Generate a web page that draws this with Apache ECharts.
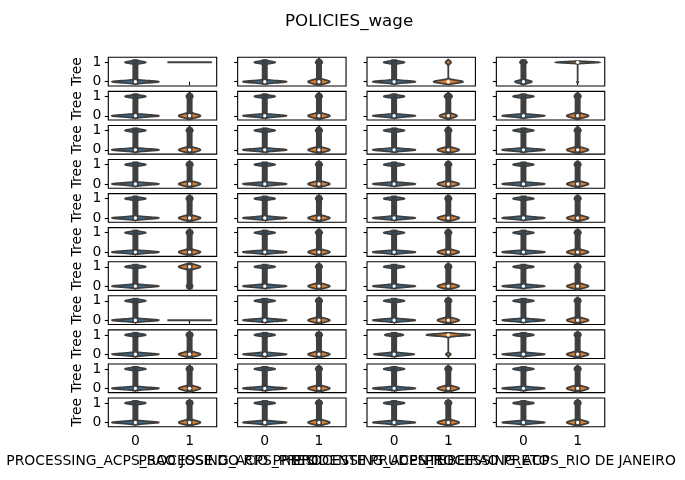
<!DOCTYPE html>
<html><head><meta charset="utf-8">
<script src="https://cdn.jsdelivr.net/npm/echarts@6/dist/echarts.min.js"></script>
<style>html,body{margin:0;padding:0;background:#fff}#c{width:685px;height:480px}</style>
</head><body><div id="c"></div>
<script>
const chartTitle = 'POLICIES_wage';
const columnLabels = ['PROCESSING_ACPS_SAO JOSE DO RIO PRETO', 'PROCESSING_ACPS_PRESIDENTE PRUDENTE', 'PROCESSING_ACPS_RIBEIRAO PRETO', 'PROCESSING_ACPS_RIO DE JANEIRO'];
const rowLabel = 'Tree';
const categories = ['0', '1'];
const yTickValues = [0, 1];
const nRows = 11, nCols = 4;

// Violin for category "0" (row-major, 11 rows x 4 columns)
// half-width of the density peak at value 0 and at value 1 (category units)
const blueAt0 = [
  0.43,0.40,0.39,0.155,
  0.43,0.40,0.39,0.39,
  0.43,0.40,0.39,0.39,
  0.43,0.40,0.39,0.39,
  0.43,0.40,0.39,0.39,
  0.43,0.40,0.39,0.39,
  0.43,0.40,0.39,0.39,
  0.43,0.40,0.39,0.39,
  0.43,0.40,0.37,0.39,
  0.43,0.40,0.39,0.39,
  0.43,0.40,0.39,0.39];
const blueAt1 = [
  0.19,0.19,0.19,0.065,
  0.19,0.19,0.19,0.19,
  0.19,0.19,0.19,0.19,
  0.19,0.19,0.19,0.19,
  0.19,0.19,0.19,0.19,
  0.19,0.19,0.19,0.19,
  0.19,0.19,0.19,0.19,
  0.19,0.19,0.19,0.19,
  0.19,0.19,0.17,0.19,
  0.19,0.19,0.19,0.19,
  0.19,0.19,0.19,0.19];
const blueBw = [
  0.05,0.05,0.05,0.065,
  0.05,0.05,0.05,0.05,
  0.05,0.05,0.05,0.05,
  0.05,0.05,0.05,0.05,
  0.05,0.05,0.05,0.05,
  0.05,0.05,0.05,0.05,
  0.05,0.05,0.05,0.05,
  0.05,0.05,0.05,0.05,
  0.05,0.05,0.05,0.05,
  0.05,0.05,0.05,0.05,
  0.05,0.05,0.05,0.05];
const blueMedian = new Array(44).fill(0);
const blueBox = new Array(44).fill(1);

// Violin for category "1"
const orangeAt0 = [
  0.00,0.20,0.27,0.012,
  0.20,0.20,0.16,0.20,
  0.20,0.20,0.20,0.20,
  0.20,0.20,0.20,0.20,
  0.20,0.20,0.20,0.20,
  0.20,0.20,0.20,0.20,
  0.055,0.20,0.20,0.20,
  0.41,0.20,0.20,0.20,
  0.20,0.20,0.045,0.20,
  0.20,0.20,0.20,0.20,
  0.20,0.20,0.20,0.20];
const orangeAt1 = [
  0.41,0.06,0.05,0.40,
  0.06,0.06,0.07,0.06,
  0.06,0.06,0.06,0.06,
  0.06,0.06,0.06,0.06,
  0.06,0.06,0.06,0.06,
  0.06,0.06,0.06,0.06,
  0.20,0.06,0.06,0.06,
  0.00,0.06,0.06,0.06,
  0.06,0.06,0.40,0.06,
  0.06,0.06,0.06,0.06,
  0.06,0.06,0.06,0.06];
const orangeBw = [
  0.045,0.09,0.07,0.03,
  0.09,0.09,0.09,0.09,
  0.09,0.09,0.09,0.09,
  0.09,0.09,0.09,0.09,
  0.09,0.09,0.09,0.09,
  0.09,0.09,0.09,0.09,
  0.09,0.09,0.09,0.09,
  0.045,0.09,0.09,0.09,
  0.09,0.09,0.05,0.09,
  0.09,0.09,0.09,0.09,
  0.09,0.09,0.09,0.09];
const orangeMedian = [
  1,0,0,1,
  0,0,0,0,
  0,0,0,0,
  0,0,0,0,
  0,0,0,0,
  0,0,0,0,
  1,0,0,0,
  0,0,0,0,
  0,0,1,0,
  0,0,0,0,
  0,0,0,0];
const orangeBox = [
  0,1,0,0,
  1,1,1,1,
  1,1,1,1,
  1,1,1,1,
  1,1,1,1,
  1,1,1,1,
  1,1,1,1,
  0,1,1,1,
  1,1,0,1,
  1,1,1,1,
  1,1,1,1];

const gray = '#3f3f3f';
const fills = ['#3274a1', '#e1812c'];
const FONT = 'DejaVu Sans';

function renderViolin(params, api) {
  const cat = api.value(0), at0 = api.value(1), at1 = api.value(2), bw = api.value(3), med = api.value(4), box = api.value(5);
  const band = api.size([1, 0])[0];
  const children = [];
  if (at0 === 0 || at1 === 0) {
    const v = at0 === 0 ? 1 : 0;
    const w = at0 === 0 ? at1 : at0;
    const a = api.coord([cat, v]);
    children.push({type: 'line', shape: {x1: a[0] - w * band, y1: a[1], x2: a[0] + w * band, y2: a[1]},
      style: {stroke: gray, lineWidth: 2}});
    return {type: 'group', children};
  }
  const lo = -2 * bw, hi = 1 + 2 * bw;
  const N = 200;
  const right = [], left = [];
  for (let k = 0; k <= N; k++) {
    const y = lo + (hi - lo) * k / N;
    const hw = at0 * Math.exp(-0.5 * (y / bw) * (y / bw)) + at1 * Math.exp(-0.5 * ((y - 1) / bw) * ((y - 1) / bw));
    const p = api.coord([cat, y]);
    right.push([p[0] + hw * band, p[1]]);
    left.push([p[0] - hw * band, p[1]]);
  }
  const pts = right.concat(left.reverse());
  children.push({type: 'polygon', shape: {points: pts}, style: {fill: fills[cat], stroke: gray, lineWidth: 1.8}});
  if (box) {
    const p0 = api.coord([cat, 0]), p1 = api.coord([cat, 1]);
    children.push({type: 'line', shape: {x1: p0[0], y1: p0[1], x2: p1[0], y2: p1[1]},
      style: {stroke: gray, lineWidth: 6, lineCap: 'square'}});
  }
  const pm = api.coord([cat, med]);
  children.push({type: 'circle', shape: {cx: pm[0], cy: pm[1], r: 1.7}, style: {fill: '#fff', stroke: null}});
  return {type: 'group', children};
}

const grids = [], xAxes = [], yAxes = [], series = [];
for (let r = 0; r < nRows; r++) {
  for (let c = 0; c < nCols; c++) {
    const i = r * nCols + c;
    const last = r === nRows - 1;
    grids.push({left: 108.3 + c * 129.35, top: 57.3 + r * 34.07, width: 108.4, height: 28.7,
      show: true, borderColor: '#000', borderWidth: 1.1, backgroundColor: 'transparent'});
    xAxes.push({gridIndex: i, type: 'category', data: categories, boundaryGap: true,
      axisLine: {show: false}, splitLine: {show: false},
      axisTick: {show: true, alignWithLabel: true, length: 3.5, lineStyle: {color: '#000', width: 1.1}},
      axisLabel: {show: last, margin: 8, fontSize: 13.9, color: '#000', fontFamily: FONT},
      name: last ? columnLabels[c] : '', nameLocation: 'middle', nameGap: 28,
      nameTextStyle: {fontSize: 13.9, color: '#000', fontFamily: FONT}});
    yAxes.push({gridIndex: i, type: 'value', min: -0.22, max: 1.26,
      axisLine: {show: false}, splitLine: {show: false},
      axisTick: {show: true, length: 3.5, customValues: yTickValues, lineStyle: {color: '#000', width: 1.1}},
      axisLabel: {show: c === 0, customValues: yTickValues, margin: 7, fontSize: 13.9, color: '#000', fontFamily: FONT},
      name: c === 0 ? rowLabel : '', nameLocation: 'middle', nameRotate: 90, nameGap: 24,
      nameTextStyle: {fontSize: 13.9, color: '#000', fontFamily: FONT}});
    series.push({type: 'custom', xAxisIndex: i, yAxisIndex: i, renderItem: renderViolin, clip: false,
      data: [
        [0, blueAt0[i], blueAt1[i], blueBw[i], blueMedian[i], blueBox[i]],
        [1, orangeAt0[i], orangeAt1[i], orangeBw[i], orangeMedian[i], orangeBox[i]]
      ]});
  }
}

const chart = echarts.init(document.getElementById('c'), null, {renderer: 'canvas'});
chart.setOption({
  animation: false,
  backgroundColor: '#fff',
  textStyle: {fontFamily: FONT},
  title: {text: chartTitle, left: 280, top: 8, textStyle: {fontSize: 16.7, fontWeight: 'normal', color: '#000', fontFamily: FONT}},
  grid: grids, xAxis: xAxes, yAxis: yAxes, series
});
</script></body></html>
